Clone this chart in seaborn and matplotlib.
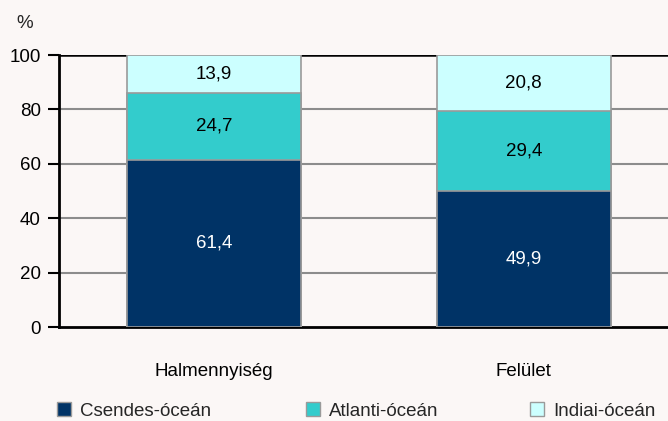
import numpy as np
import pandas as pd
import matplotlib.pyplot as plt
import seaborn as sns

categories = ["Halmennyiség", "Felület"]
series_names = ["Csendes-óceán", "Atlanti-óceán", "Indiai-óceán"]
csendes = [61.4, 49.9]
atlanti = [24.7, 29.4]
indiai = [13.9, 20.8]
colors = ["#003366", "#33CCCC", "#CCFFFF"]
text_colors = ["white", "black", "black"]
yticks = [0, 20, 40, 60, 80, 100]

BG = "#FBF7F6"
FS = 13.5

sns.set_theme(style="white")
plt.rcParams["font.family"] = ["Liberation Sans Narrow", "Liberation Sans", "DejaVu Sans"]

values = np.array([csendes, atlanti, indiai])
tops = np.cumsum(values, axis=0)
bottoms = tops - values

fig = plt.figure(figsize=(6.68, 4.21), dpi=100, facecolor=BG)
ax = fig.add_axes([59 / 668, 1 - 327 / 421, 612 / 668, 272 / 421])
ax.set_facecolor(BG)

# draw the stack back to front: each bar runs from 0 to its cumulative top
for i in reversed(range(len(series_names))):
    df = pd.DataFrame({"cat": categories, "val": tops[i]})
    sns.barplot(data=df, x="cat", y="val", color=colors[i], width=0.56,
                edgecolor="#9A9A9A", linewidth=1.2, saturation=1, ax=ax, zorder=3)

for i in range(len(series_names)):
    for j in range(len(categories)):
        mid = bottoms[i, j] + values[i, j] / 2
        ax.text(j, mid, f"{values[i, j]:.1f}".replace(".", ","), ha="center", va="center",
                color=text_colors[i], fontsize=FS, zorder=4)

ax.set_xlim(-0.5, 1.475)
ax.set_ylim(0, 100)
ax.set_yticks(yticks)
ax.set_yticklabels([str(t) for t in yticks], fontsize=FS, color="black")
ax.tick_params(axis="y", length=8, width=1.5, color="black", direction="out", left=True, pad=5)
ax.tick_params(axis="x", length=0, pad=26, labelsize=FS, labelcolor="black")
ax.set_xlabel("")
ax.set_ylabel("")

for t in [20, 40, 60, 80]:
    ax.axhline(t, color="#8C8C8C", linewidth=1.5, zorder=1)
ax.axhline(100, color="black", linewidth=1.8, zorder=1)

for side in ["right", "top"]:
    ax.spines[side].set_visible(False)
for side in ["left", "bottom"]:
    ax.spines[side].set_color("black")
    ax.spines[side].set_linewidth(2)

fig.text(25 / 668, 1 - 23 / 421, "%", fontsize=FS, ha="center", va="center")

handles = [plt.Rectangle((0, 0), 1, 1, facecolor=c, edgecolor="#9A9A9A", linewidth=1) for c in colors]
legend_x = [57, 306, 530]
for h, name, lx in zip(handles, series_names, legend_x):
    fig.legend([h], [name], loc="center left", bbox_to_anchor=(lx / 668, 1 - 411 / 421),
               frameon=False, fontsize=FS, handlelength=0.75, handleheight=0.75,
               handletextpad=0.5, borderpad=0, borderaxespad=0)

fig.savefig("out.png", dpi=100, facecolor=BG)
